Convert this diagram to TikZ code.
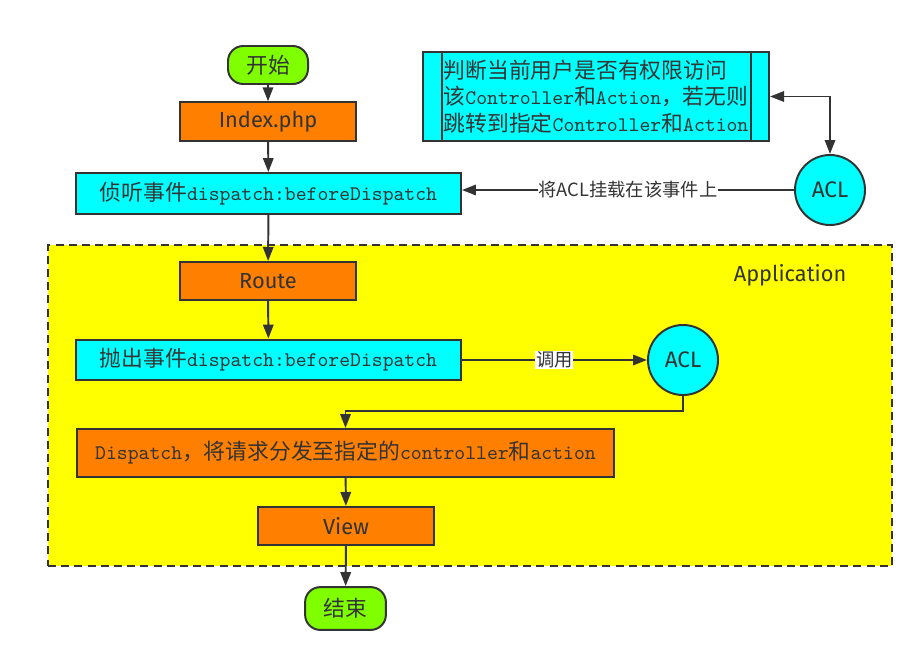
\documentclass[tikz,border=0pt]{standalone}
\usepackage{fontspec}
\setmainfont{Noto Sans CJK SC}
\newfontfamily\monofont[Scale=0.95]{lmmono10-regular.otf}
\newfontfamily\comicfont{Fira Sans}
\usetikzlibrary{arrows.meta,positioning}
\newcommand{\mt}[1]{{\monofont #1}}
\definecolor{lineclr}{HTML}{333333}
\definecolor{termclr}{HTML}{80FF00}
\definecolor{procclr}{HTML}{FF8000}
\definecolor{evtclr}{HTML}{00FFFF}
\definecolor{appclr}{HTML}{FFFF00}

\begin{document}
\begin{tikzpicture}[x=0.025cm, y=-0.025cm, >={Triangle[length=3.5mm,width=2.6mm]},
  color=lineclr, line width=1.4pt,
  term/.style={draw, rounded corners=0.38cm, fill=termclr, minimum width=2cm, minimum height=0.95cm, font=\fontsize{15.5pt}{18pt}\selectfont},
  proc/.style={draw, fill=procclr, minimum width=4.4cm, minimum height=0.96cm, font=\comicfont\fontsize{15.5pt}{18pt}\selectfont},
  evt/.style={draw, fill=evtclr, minimum width=9.62cm, minimum height=1.02cm, font=\fontsize{15.5pt}{19pt}\selectfont},
  acl/.style={draw, circle, fill=evtclr, minimum size=1.75cm, inner sep=0pt, font=\comicfont\fontsize{16pt}{18pt}\selectfont},
  app/.style={draw, dashed, dash pattern=on 2mm off 1.3mm, fill=appclr, minimum width=21.1cm, minimum height=8.02cm},
  lbl/.style={fill=white, inner sep=0.5pt, font=\fontsize{13pt}{15pt}\selectfont}
]
\useasboundingbox (0,0) rectangle (924,664);
% outside the application
\node[term] (start) at (268,65) {开始};
\node[proc] (index) at (268,121.5) {Index.php};
\node[evt] (listen) at (268.5,193.5) {侦听事件\mt{dispatch:beforeDispatch}};
\node[evt, minimum width=8.65cm, minimum height=2.22cm, align=left] (rule) at (596,96.5)
  {判断当前用户是否有权限访问\\该\mt{Controller}和\mt{Action}，若无则\\跳转到指定\mt{Controller}和\mt{Action}};
\draw ([xshift=5mm]rule.north west) -- ([xshift=5mm]rule.south west);
\draw ([xshift=-4.8mm]rule.north east) -- ([xshift=-4.8mm]rule.south east);
\node[acl] (acltop) at (830,190) {ACL};
% application area
\node[app] (app) at (470,405.5) {};
\node[font=\comicfont\fontsize{15.5pt}{18pt}\selectfont] (applbl) at (790,275) {Application};
\node[proc, minimum height=0.95cm] (route) at (268,281) {Route};
\node[evt] (throw) at (268.5,360) {抛出事件\mt{dispatch:beforeDispatch}};
\node[acl] (aclmid) at (683,360) {ACL};
\node[proc, minimum width=13.42cm, minimum height=1.2cm, font=\fontsize{15.5pt}{18pt}\selectfont] (dispatch) at (345.5,453)
  {\mt{Dispatch}，将请求分发至指定的\mt{controller}和\mt{action}};
\node[proc, minimum height=0.95cm] (view) at (346,526) {View};
\node[term, minimum width=2.02cm, minimum height=1.07cm] (end) at (345.5,608.5) {结束};
% connectors
\draw[->] (start) -- (index);
\draw[->] (index) -- (listen);
\draw[->] (listen) -- (route);
\draw[->] (route) -- (throw);
\draw[->] (acltop.west) -- (acltop.west -| listen.east) node[lbl, midway] {将ACL挂载在该事件上};
\draw[<->] (rule.east) -| (acltop.north);
\draw[->] (throw) -- (aclmid) node[lbl, midway] {调用};
\draw[->] (aclmid.south) -- ++(0,15) -| (dispatch.north);
\draw[->] (dispatch) -- (view);
\draw[->] (view) -- (end);
\end{tikzpicture}
\end{document}
